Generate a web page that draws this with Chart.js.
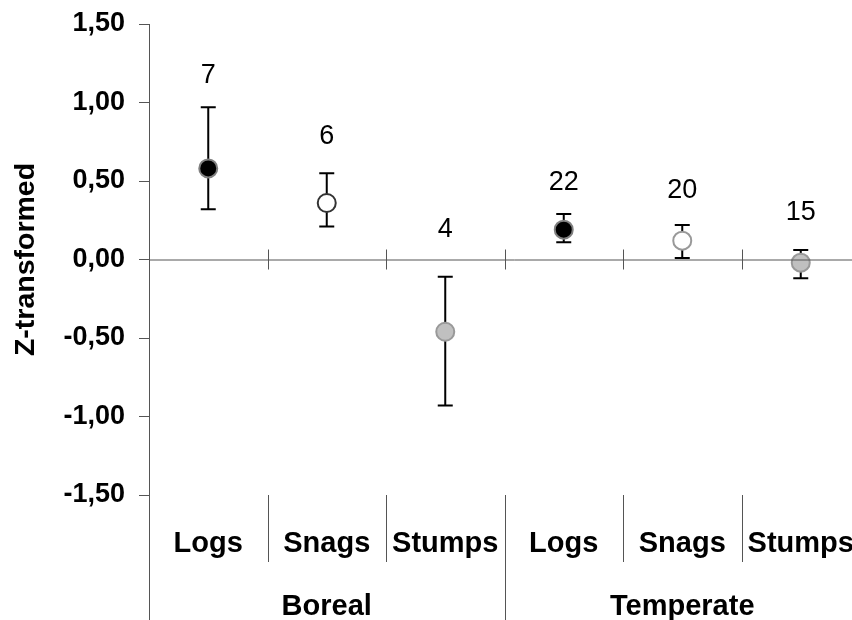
<!DOCTYPE html>
<html>
<head>
<meta charset="utf-8">
<script src="https://cdn.jsdelivr.net/npm/chart.js@4"></script>
<style>
  html, body { margin: 0; padding: 0; background: #fff; overflow: hidden; }
  #wrap { width: 880px; height: 620px; }
</style>
</head>
<body>
<div id="wrap"><canvas id="zChart" width="880" height="620"></canvas></div>
<script>
const categories = ["Logs", "Snags", "Stumps", "Logs", "Snags", "Stumps"];
const groups = ["Boreal", "Temperate"];
const means = [0.58, 0.36, -0.46, 0.19, 0.12, -0.02];
const upper = [0.97, 0.55, -0.11, 0.29, 0.22, 0.06];
const lower = [0.32, 0.21, -0.93, 0.11, 0.01, -0.12];
const nLabels = ["7", "6", "4", "22", "20", "15"];
const nLabelPos = [1.17, 0.78, 0.19, 0.49, 0.44, 0.30];
const yTicks = [-1.5, -1.0, -0.5, 0, 0.5, 1.0, 1.5];

const fontFam = "'Liberation Sans', Arial, sans-serif";

// error bars, zero line, category dividers, group names, n labels
const extras = {
  id: "extras",
  beforeDatasetsDraw(chart) {
    const { ctx, scales: { x, y } } = chart;
    ctx.save();
    ctx.strokeStyle = "#000";
    ctx.lineWidth = 2;
    means.forEach((m, i) => {
      const px = x.getPixelForValue(i);
      const top = y.getPixelForValue(upper[i]);
      const bot = y.getPixelForValue(lower[i]);
      ctx.beginPath();
      ctx.moveTo(px, top); ctx.lineTo(px, bot);
      ctx.moveTo(px - 7.5, top); ctx.lineTo(px + 7.5, top);
      ctx.moveTo(px - 7.5, bot); ctx.lineTo(px + 7.5, bot);
      ctx.stroke();
    });
    ctx.restore();
  },
  afterDraw(chart) {
    const { ctx, chartArea, scales: { x, y } } = chart;
    const w = x.getPixelForValue(1) - x.getPixelForValue(0);
    const y0 = y.getPixelForValue(0);
    ctx.save();
    ctx.strokeStyle = "#555";
    ctx.lineWidth = 1;
    // zero line
    ctx.beginPath();
    ctx.moveTo(chartArea.left, y0 + 0.5);
    ctx.lineTo(chart.width, y0 + 0.5);
    ctx.stroke();
    for (let i = 0; i <= categories.length; i++) {
      const bx = Math.round(x.getPixelForValue(i) - w / 2) + 0.5;
      if (i > 0) {
        ctx.beginPath();
        ctx.moveTo(bx, y0 - 10); ctx.lineTo(bx, y0 + 10);
        ctx.stroke();
      }
      const isGroup = i % 3 === 0;
      ctx.beginPath();
      ctx.moveTo(bx, chartArea.bottom);
      ctx.lineTo(bx, isGroup ? chart.height : chartArea.bottom + 67);
      ctx.stroke();
    }
    ctx.fillStyle = "#000";
    ctx.textAlign = "center";
    ctx.textBaseline = "middle";
    ctx.font = "bold 29px " + fontFam;
    groups.forEach((g, gi) => {
      const cx = (x.getPixelForValue(gi * 3) + x.getPixelForValue(gi * 3 + 2)) / 2;
      ctx.fillText(g, cx, 607);
    });
    ctx.font = "27px " + fontFam;
    nLabels.forEach((t, i) => {
      ctx.fillText(t, x.getPixelForValue(i), y.getPixelForValue(nLabelPos[i]));
    });
    ctx.restore();
  }
};

new Chart(document.getElementById("zChart"), {
  type: "line",
  data: {
    labels: categories,
    datasets: [{
      data: means,
      showLine: false,
      pointRadius: 9,
      pointHoverRadius: 9,
      pointBorderWidth: 2,
      pointBackgroundColor: ["#000", "#fff", "#c0c0c0", "#000", "#fff", "#c0c0c0"],
      pointBorderColor: ["#808080", "#333", "#999", "#808080", "#999", "#999"]
    }]
  },
  options: {
    responsive: false,
    animation: false,
    devicePixelRatio: 1,
    events: [],
    layout: { padding: { top: 24, right: 20, left: 0, bottom: 0 } },
    plugins: { legend: { display: false }, tooltip: { enabled: false } },
    scales: {
      x: {
        offset: true,
        grid: { display: false, drawTicks: false },
        border: { display: false },
        ticks: {
          color: "#000",
          padding: 32,
          autoSkip: false,
          maxRotation: 0,
          font: { family: fontFam, size: 29, weight: "bold" }
        },
        afterFit(scale) {
          scale.height = 125;
          scale.paddingLeft = 0;
          scale.paddingRight = 0;
        }
      },
      y: {
        min: -1.5,
        max: 1.5,
        afterBuildTicks(scale) { scale.ticks = yTicks.map(v => ({ value: v })); },
        grid: { drawOnChartArea: false, drawTicks: true, tickLength: 10, color: "#555" },
        border: { display: true, color: "#555" },
        ticks: {
          color: "#000",
          padding: 14,
          font: { family: fontFam, size: 27, weight: "bold" },
          callback: v => v.toFixed(2).replace(".", ",")
        },
        title: {
          display: true,
          text: "Z-transformed",
          color: "#000",
          padding: { top: 9, bottom: 0 },
          font: { family: fontFam, size: 28.5, weight: "bold" }
        },
        afterFit(scale) {
          scale.width = 149;
          scale.paddingTop = 0;
          scale.paddingBottom = 0;
        }
      }
    }
  },
  plugins: [extras]
});
</script>
</body>
</html>
